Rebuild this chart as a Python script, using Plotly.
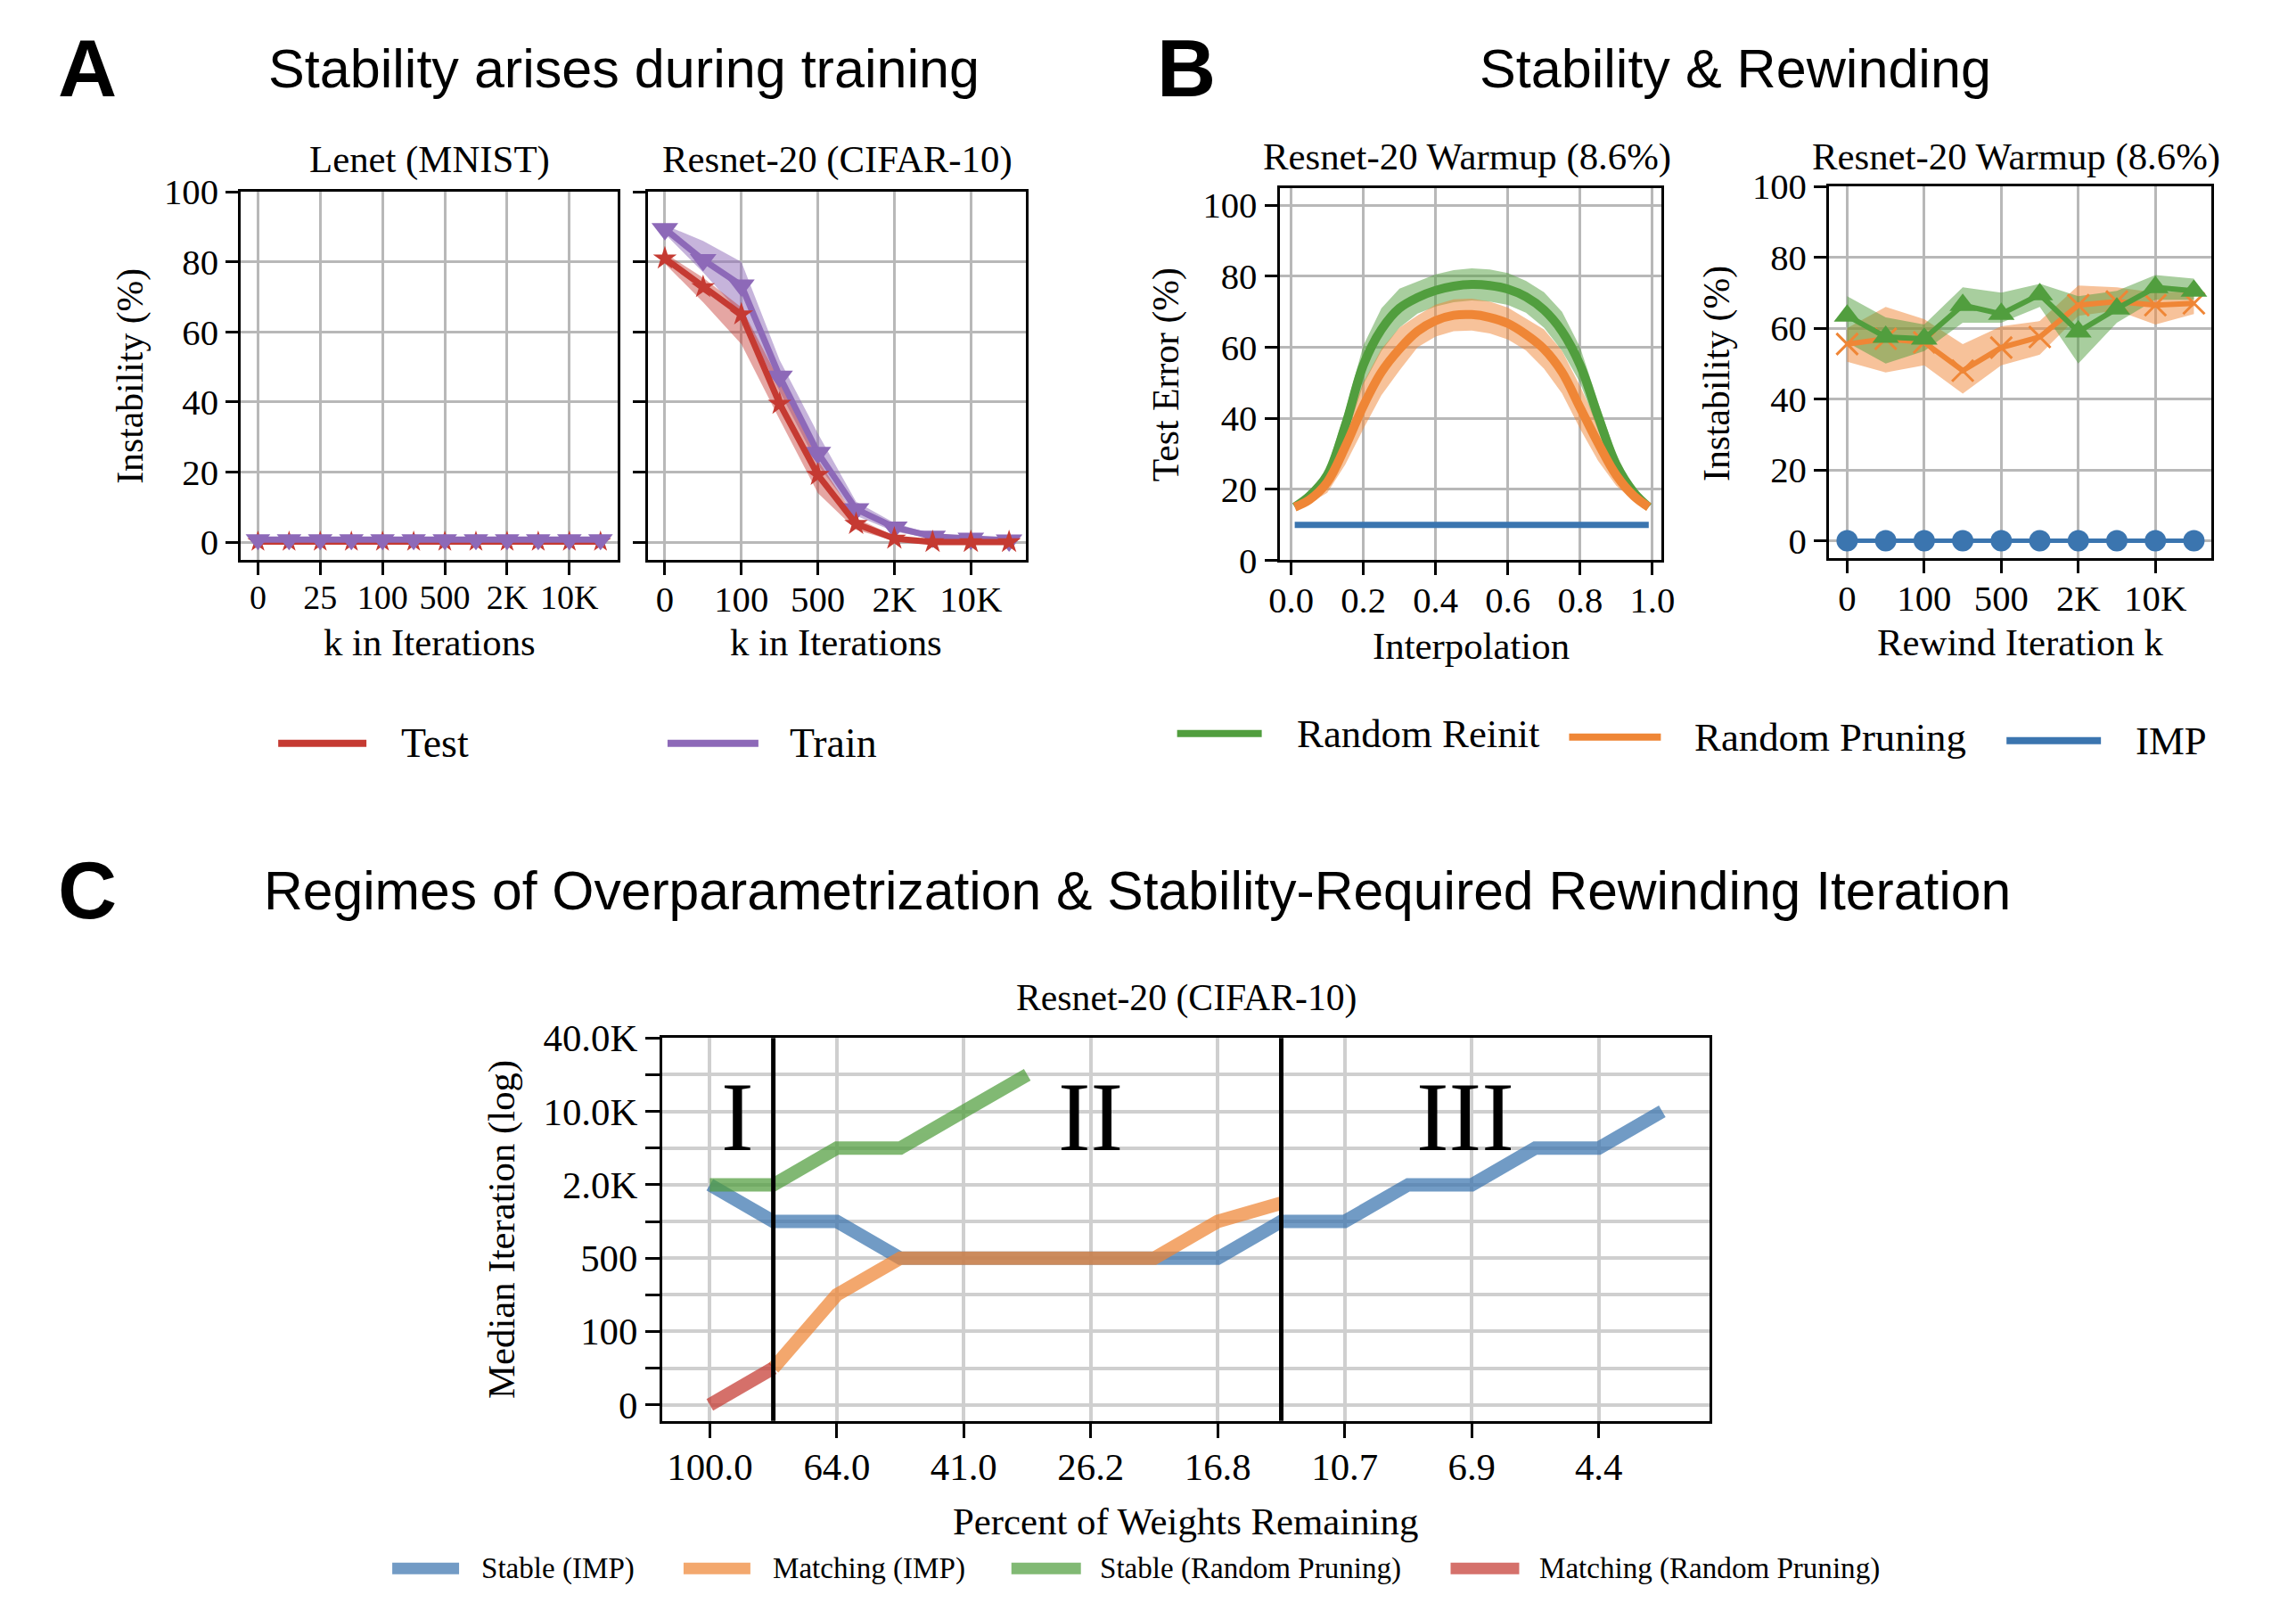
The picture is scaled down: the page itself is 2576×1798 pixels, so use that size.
import plotly.graph_objects as go

W, H = 2576, 1798

# ---------------- data ----------------
# Panel A (left): Lenet (MNIST)
lenet_k_labels = ["0", "", "25", "", "100", "", "500", "", "2K", "", "10K", ""]
lenet_train = [0.7, 0.7, 0.7, 0.7, 0.7, 0.7, 0.7, 0.7, 0.7, 0.7, 0.7, 0.7]
lenet_test = [0.1, 0.1, 0.1, 0.1, 0.1, 0.1, 0.1, 0.1, 0.1, 0.1, 0.1, 0.1]

# Panel A (right): Resnet-20 (CIFAR-10)
resnet_k_labels = ["0", "", "100", "", "500", "", "2K", "", "10K", ""]
resnet_train = [89.4, 80.6, 73.3, 47.3, 25.5, 9.4, 4.2, 1.6, 1.0, 0.5]
resnet_train_lo = [88.0, 77.0, 65.0, 43.0, 22.0, 7.5, 3.0, 1.0, 0.5, 0.0]
resnet_train_hi = [90.5, 86.0, 80.0, 52.0, 31.0, 11.5, 5.5, 2.2, 1.5, 1.0]
resnet_test = [81.0, 72.8, 65.0, 39.5, 19.2, 5.2, 1.0, 0.0, 0.0, 0.0]
resnet_test_lo = [79.5, 68.5, 56.5, 35.0, 14.0, 3.5, 0.3, 0.0, 0.0, 0.0]
resnet_test_hi = [82.5, 75.5, 67.0, 46.0, 23.5, 6.8, 1.8, 0.5, 0.3, 0.3]

# Panel B (left): interpolation
interp_x = [0.01, 0.05, 0.10, 0.15, 0.20, 0.25, 0.30, 0.35, 0.40, 0.45, 0.50,
            0.55, 0.60, 0.65, 0.70, 0.75, 0.80, 0.85, 0.90, 0.95, 0.99]
reinit_err = [15, 18, 24, 38, 55, 65, 71, 74, 76, 77.2, 77.7,
              77.4, 76.4, 74.2, 70.5, 64.5, 55, 40.5, 27, 19, 15]
reinit_err_lo = [15, 17.5, 22, 34, 49.5, 59, 65.5, 69.5, 71.5, 72.7, 73.2,
                 72.9, 71.9, 69.7, 65.5, 59, 50, 36.5, 24.5, 18, 15]
reinit_err_hi = [15, 18.5, 26, 42, 60.5, 71, 76.5, 78.5, 80.5, 81.7, 82.2,
                 81.9, 80.9, 78.7, 75.5, 70, 60, 44.5, 29.5, 20, 15]
prune_err = [15, 17, 22, 32, 43.5, 53, 59.5, 64.5, 67.5, 69, 69.2,
             68.4, 66.7, 63.6, 59.5, 53, 43, 33, 24, 18, 15]
prune_err_lo = [15, 16, 19, 27, 37, 46.5, 53.5, 60, 63, 64.5, 64.7,
                63.9, 62.2, 59.1, 54, 47, 37, 28, 21, 16.5, 15]
prune_err_hi = [15, 18, 25, 37, 50, 59.5, 65.5, 69, 72, 73.5, 73.7,
                72.9, 71.2, 68.1, 65, 59, 49, 38, 27, 19.5, 15]
imp_err = [10, 10, 10, 10, 10, 10, 10, 10, 10, 10, 10,
           10, 10, 10, 10, 10, 10, 10, 10, 10, 10]

# Panel B (right): rewinding
rewind_k_labels = ["0", "", "100", "", "500", "", "2K", "", "10K", ""]
reinit_rw = [63.5, 57.5, 57.0, 66.5, 64.0, 69.5, 59.0, 65.5, 71.5, 70.5]
reinit_rw_lo = [56.0, 50.0, 53.5, 61.5, 61.5, 66.0, 50.0, 61.5, 68.0, 68.0]
reinit_rw_hi = [69.0, 63.0, 61.0, 71.5, 70.0, 72.5, 69.0, 70.5, 75.0, 74.0]
prune_rw = [55.5, 57.0, 56.0, 48.0, 54.5, 57.5, 66.5, 67.5, 66.5, 67.0]
prune_rw_lo = [50.5, 47.5, 49.5, 41.5, 49.5, 52.5, 63.5, 65.0, 61.0, 64.0]
prune_rw_hi = [60.0, 66.0, 62.5, 55.5, 60.5, 62.0, 72.0, 71.5, 70.0, 70.5]
imp_rw = [0, 0, 0, 0, 0, 0, 0, 0, 0, 0]

# Panel C
pct_remaining = [100.0, 80.0, 64.0, 51.2, 41.0, 32.8, 26.2, 21.0,
                 16.8, 13.4, 10.7, 8.6, 6.9, 5.5, 4.4, 3.5]
iter_levels = ["0", "50", "100", "250", "500", "1K", "2.0K", "5K", "10.0K", "20K", "40.0K"]
stable_imp = [6, 5, 5, 4, 4, 4, 4, 4, 4, 5, 5, 6, 6, 7, 7, 8]
matching_imp = [None, 1, 3, 4, 4, 4, 4, 4, 5, 5.5]
stable_rand = [6, 6, 7, 7, 8, 9]
matching_rand = [0, 1]
regime_bounds = [1, 9]
regime_labels = ["I", "II", "III"]
regime_label_x = [0.44, 6.0, 11.9]

# ---------------- styles ----------------
RED = "#c53a32"
PURPLE = "#8d69b8"
GREEN = "#519e3e"
ORANGE = "#ef8636"
BLUE = "#3b75af"
SERIF = "Liberation Serif"
SANS = "Liberation Sans"

# page-placement compensation (observed capture transform)
OX, SX = 11.7, 0.990
OY, SY = 22.6, 0.974
FS = 1.018


def hx(x):
    return ((x - OX) / SX) / W


def vy(y):
    return 1 - ((y - OY) / SY) / H


def f(s):
    return round(s * FS, 1)


def rgba(hexc, a):
    h = hexc.lstrip("#")
    r, g, b = int(h[0:2], 16), int(h[2:4], 16), int(h[4:6], 16)
    return f"rgba({r},{g},{b},{a})"


fig = go.Figure()


def band(xs, lo, hi, color, alpha, xa, ya):
    fig.add_trace(go.Scatter(
        x=list(xs) + list(xs)[::-1], y=list(hi) + list(lo)[::-1],
        fill="toself", fillcolor=rgba(color, alpha), line=dict(width=0),
        mode="lines", hoverinfo="skip", showlegend=False, xaxis=xa, yaxis=ya))


# ---- A left
xa_l = list(range(len(lenet_k_labels)))
fig.add_trace(go.Scatter(x=xa_l, y=lenet_test, mode="lines+markers",
                         line=dict(color=RED, width=7),
                         marker=dict(symbol="star", size=18, color=RED),
                         showlegend=False, xaxis="x", yaxis="y"))
fig.add_trace(go.Scatter(x=xa_l, y=lenet_train, mode="lines+markers",
                         line=dict(color=PURPLE, width=7),
                         marker=dict(symbol="triangle-down", size=24, color=PURPLE),
                         showlegend=False, xaxis="x", yaxis="y"))

# ---- A right
xa_r = list(range(len(resnet_k_labels)))
band(xa_r, resnet_train_lo, resnet_train_hi, PURPLE, 0.5, "x2", "y2")
band(xa_r, resnet_test_lo, resnet_test_hi, RED, 0.45, "x2", "y2")
fig.add_trace(go.Scatter(x=xa_r, y=resnet_train, mode="lines+markers",
                         line=dict(color=PURPLE, width=7),
                         marker=dict(symbol="triangle-down", size=26, color=PURPLE),
                         showlegend=False, xaxis="x2", yaxis="y2"))
fig.add_trace(go.Scatter(x=xa_r, y=resnet_test, mode="lines+markers",
                         line=dict(color=RED, width=7),
                         marker=dict(symbol="star", size=20, color=RED),
                         showlegend=False, xaxis="x2", yaxis="y2"))

# ---- B left
band(interp_x, reinit_err_lo, reinit_err_hi, GREEN, 0.5, "x3", "y3")
band(interp_x, prune_err_lo, prune_err_hi, ORANGE, 0.5, "x3", "y3")
fig.add_trace(go.Scatter(x=interp_x, y=reinit_err, mode="lines", line=dict(color=GREEN, width=10, shape="spline"),
                         showlegend=False, xaxis="x3", yaxis="y3"))
fig.add_trace(go.Scatter(x=interp_x, y=prune_err, mode="lines", line=dict(color=ORANGE, width=10, shape="spline"),
                         showlegend=False, xaxis="x3", yaxis="y3"))
fig.add_trace(go.Scatter(x=interp_x, y=imp_err, mode="lines", line=dict(color=BLUE, width=7),
                         showlegend=False, xaxis="x3", yaxis="y3"))

# ---- B right
xb_r = list(range(len(rewind_k_labels)))
band(xb_r, prune_rw_lo, prune_rw_hi, ORANGE, 0.5, "x4", "y4")
band(xb_r, reinit_rw_lo, reinit_rw_hi, GREEN, 0.5, "x4", "y4")
fig.add_trace(go.Scatter(x=xb_r, y=prune_rw, mode="lines+markers",
                         line=dict(color=ORANGE, width=6),
                         marker=dict(symbol="x-thin-open", size=24, color=ORANGE, line=dict(width=3, color=ORANGE)),
                         showlegend=False, xaxis="x4", yaxis="y4"))
fig.add_trace(go.Scatter(x=xb_r, y=reinit_rw, mode="lines+markers",
                         line=dict(color=GREEN, width=6),
                         marker=dict(symbol="triangle-up", size=26, color=GREEN),
                         showlegend=False, xaxis="x4", yaxis="y4"))
fig.add_trace(go.Scatter(x=xb_r, y=imp_rw, mode="lines+markers",
                         line=dict(color=BLUE, width=5),
                         marker=dict(symbol="circle", size=24, color=BLUE),
                         showlegend=False, xaxis="x4", yaxis="y4"))

# ---- C
xc = list(range(len(pct_remaining)))
for ys, col in [(stable_imp, BLUE), (matching_imp, ORANGE), (stable_rand, GREEN), (matching_rand, RED)]:
    fig.add_trace(go.Scatter(x=xc[:len(ys)], y=ys, mode="lines", opacity=0.72,
                             line=dict(color=col, width=15), connectgaps=False,
                             showlegend=False, xaxis="x5", yaxis="y5"))

# ---------------- axes ----------------
base = dict(showline=True, linecolor="black", linewidth=3, mirror=True,
            ticks="outside", ticklen=14, tickwidth=3, tickcolor="black",
            showgrid=True, gridcolor="#b8b8b8", gridwidth=2.5, zeroline=False,
            tickfont=dict(family=SERIF, size=f(40), color="black"))
xbase = dict(base, ticklabelstandoff=-7)


def dom_x(a, b):
    return [hx(a), hx(b)]


def dom_y(top, bottom):
    return [vy(bottom), vy(top)]


def kticks(labels):
    vals = [i for i, l in enumerate(labels) if l]
    return dict(tickmode="array", tickvals=vals, ticktext=[labels[i] for i in vals])


layout = dict(
    width=W, height=H, margin=dict(l=0, r=0, t=0, b=0),
    paper_bgcolor="white", plot_bgcolor="white", showlegend=False,
    xaxis=dict(xbase, domain=dom_x(270, 693), anchor="y", range=[-0.55, 11.55],
               tickfont=dict(family=SERIF, size=38, color="black"), **kticks(lenet_k_labels)),
    yaxis=dict(base, domain=dom_y(214.7, 627), anchor="x", range=[-5, 100], tickvals=[0, 20, 40, 60, 80, 100]),
    xaxis2=dict(xbase, domain=dom_x(726.7, 1151.7), anchor="y2", range=[-0.45, 9.45], **kticks(resnet_k_labels)),
    yaxis2=dict(base, domain=dom_y(214.7, 627), anchor="x2", range=[-5, 100], tickvals=[0, 20, 40, 60, 80, 100],
                showticklabels=False),
    xaxis3=dict(xbase, domain=dom_x(1436, 1865), anchor="y3", range=[-0.032, 1.026],
                tickvals=[0, 0.2, 0.4, 0.6, 0.8, 1.0], ticktext=["0.0", "0.2", "0.4", "0.6", "0.8", "1.0"]),
    yaxis3=dict(base, domain=dom_y(210.6, 627.8), anchor="x3", range=[0, 104.8], tickvals=[0, 20, 40, 60, 80, 100]),
    xaxis4=dict(xbase, domain=dom_x(2052.8, 2481.8), anchor="y4", range=[-0.47, 9.45], **kticks(rewind_k_labels)),
    yaxis4=dict(base, domain=dom_y(208.6, 625.7), anchor="x4", range=[-5, 100], tickvals=[0, 20, 40, 60, 80, 100]),
    xaxis5=dict(base, domain=dom_x(743, 1919), anchor="y5", range=[-0.75, 15.75],
                tickvals=[i for i in xc if i % 2 == 0],
                ticktext=[f"{pct_remaining[i]:.1f}" for i in xc if i % 2 == 0],
                gridcolor="#cfcfcf", gridwidth=3.5, ticklen=16, ticklabelstandoff=-4,
                tickfont=dict(family=SERIF, size=f(42), color="black")),
    yaxis5=dict(base, domain=dom_y(1163.4, 1592.8), anchor="x5", range=[-0.44, 10],
                tickvals=list(range(len(iter_levels))),
                ticktext=[l if i % 2 == 0 else "" for i, l in enumerate(iter_levels)],
                gridcolor="#cfcfcf", gridwidth=3.5, ticklen=16,
                tickfont=dict(family=SERIF, size=f(42), color="black")),
)
fig.update_layout(**layout)

# regime boundaries
for b in regime_bounds:
    fig.add_shape(type="line", xref="x5", yref="y5 domain", x0=b, x1=b, y0=0, y1=1,
                  line=dict(color="black", width=5))
for lab, lx in zip(regime_labels, regime_label_x):
    fig.add_annotation(x=lx, y=7.85, xref="x5", yref="y5", text=lab, showarrow=False,
                       font=dict(family=SERIF, size=f(108), color="black"), xanchor="center", yanchor="middle")

# ---------------- text ----------------
def txt(x, y, s, size, family=SERIF, bold=False, angle=0, xanchor="center"):
    fig.add_annotation(x=hx(x), y=vy(y), xref="paper", yref="paper", text=(f"<b>{s}</b>" if bold else s),
                       showarrow=False, textangle=angle, xanchor=xanchor, yanchor="middle",
                       font=dict(family=family, size=f(size), color="black"))


# panel letters & headings
txt(98, 76, "A", 90, SANS, bold=True)
txt(700, 77, "Stability arises during training", 60, SANS)
txt(1331, 76, "B", 90, SANS, bold=True)
txt(1948, 77, "Stability &amp; Rewinding", 60, SANS)
txt(98, 997, "C", 90, SANS, bold=True)
txt(1276, 998, "Regimes of Overparametrization &amp; Stability-Required Rewinding Iteration", 59.5, SANS)

# subplot titles
txt(482, 179, "Lenet (MNIST)", 42)
txt(940, 179, "Resnet-20 (CIFAR-10)", 42)
txt(1646, 176, "Resnet-20 Warmup (8.6%)", 42)
txt(2263, 176, "Resnet-20 Warmup (8.6%)", 42)
txt(1331, 1119, "Resnet-20 (CIFAR-10)", 41)

# axis titles
txt(146, 421, "Instability (%)", 41, angle=-90)
txt(482, 720, "k in Iterations", 42)
txt(938, 720, "k in Iterations", 42)
txt(1309, 420, "Test Error (%)", 41, angle=-90)
txt(1651, 724, "Interpolation", 42)
txt(1927, 418, "Instability (%)", 41, angle=-90)
txt(2267, 720, "Rewind Iteration k", 42)
txt(563, 1378, "Median Iteration (log)", 42, angle=-90)
txt(1330, 1705, "Percent of Weights Remaining", 42)

# ---------------- manual legends ----------------
def leg(x0, x1, y, color, width, label, tx, size, alpha=1.0):
    fig.add_shape(type="line", xref="paper", yref="paper", x0=hx(x0), x1=hx(x1), y0=vy(y), y1=vy(y),
                  line=dict(color=rgba(color, alpha), width=width))
    txt(tx, y, label, size, xanchor="left")


leg(312, 411, 833, RED, 8, "Test", 448, 45)
leg(749, 851, 833, PURPLE, 8, "Train", 884, 45)
leg(1321, 1416, 822, GREEN, 8, "Random Reinit", 1453, 44)
leg(1761, 1864, 826, ORANGE, 8, "Random Pruning", 1900, 44)
leg(2252, 2358, 830, BLUE, 8, "IMP", 2395, 44)

leg(440, 515, 1758, BLUE, 13, "Stable (IMP)", 538, 32.5, 0.72)
leg(767, 842, 1758, ORANGE, 13, "Matching (IMP)", 865, 32.5, 0.72)
leg(1135, 1213, 1758, GREEN, 13, "Stable (Random Pruning)", 1232, 32.5, 0.72)
leg(1628, 1705, 1758, RED, 13, "Matching (Random Pruning)", 1726, 32.5, 0.72)

fig.write_html(
    "out.html",
    config={"displayModeBar": False},
    post_script="document.body.style.margin='0';document.body.style.padding='0';"
                "document.documentElement.style.margin='0';document.documentElement.style.overflow='hidden';",
)
